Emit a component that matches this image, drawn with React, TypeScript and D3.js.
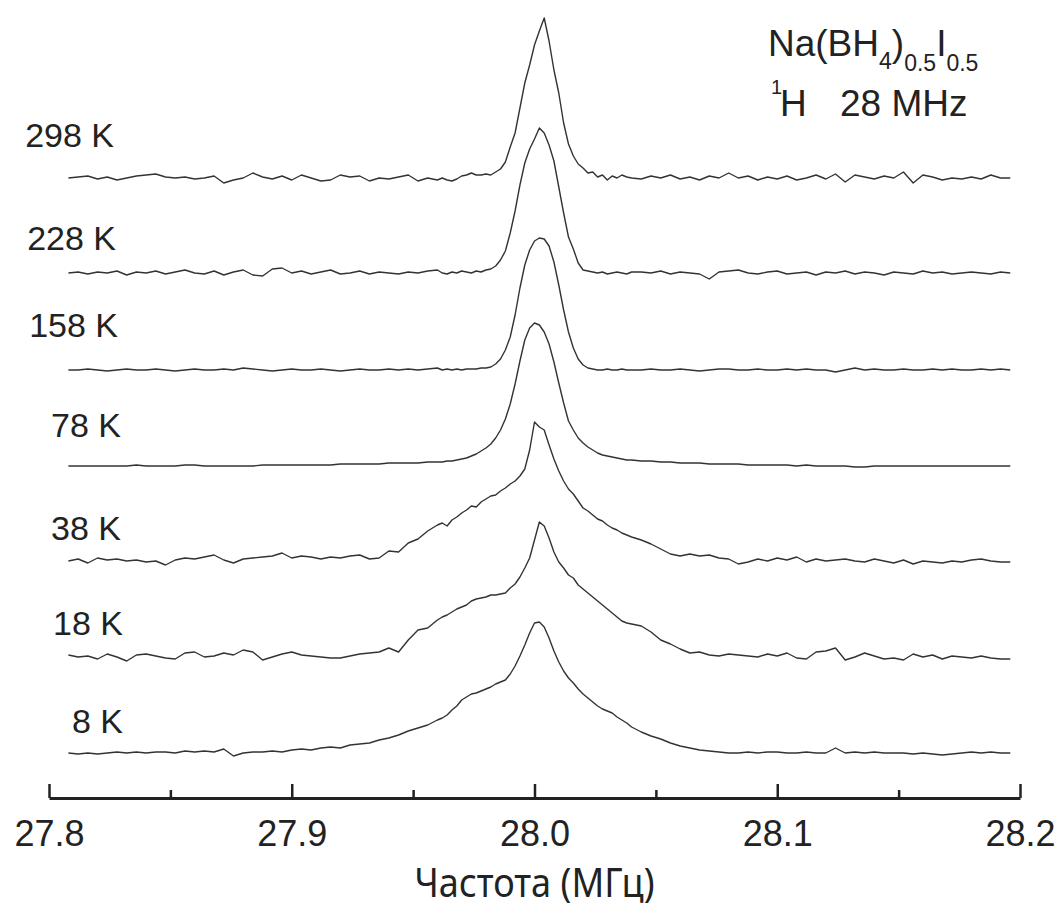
import { useEffect, useRef } from 'react';
import * as d3 from 'd3';

const WIDTH = 1057;
const HEIGHT = 908;

// temperatures, top trace first
const temperatures = ['298 K', '228 K', '158 K', '78 K', '38 K', '18 K', '8 K'];

const xTicks = [27.8, 27.9, 28.0, 28.1, 28.2];
const xMinorTicks = [27.85, 27.95, 28.05, 28.15];

// frequency grid (MHz): 4 kHz steps in the wings, 2 kHz across the line
const freqLeft = d3.range(39).map(j => 27.808 + j * 0.004);
const freqMid = d3.range(40).map(i => 27.962 + i * 0.002);
const freqRight = d3.range(39).map(k => 28.044 + k * 0.004);
const freq = [...freqLeft, ...freqMid, ...freqRight];

// signal intensity (a.u.), one value per grid point
const s298 = [
  0, 1, 2, -1, 1, -2, 0, 2, 3, 4, 1, 0, 1, -1, 0, 2, -5, -2, 0, 5,
  1, -1, 2, -2, 3, 0, -3, -2, 3, 1, 2, -3, 0, -1, 1, 3, -3, 0, -2,
  0, -2, -3, -1, 2, 3, 5, 3, 3, 4, 3, 6, 9, 16, 31, 45, 70, 95, 113, 133,
  147, 160, 137, 108, 85, 55, 34, 22, 14, 10, 5, 6, 1, 3, -2, 2, 0, 3, 1, 0,
  -1, 2, 0, 3, -1, 1, -2, 2, 0, 5, 0, 2, -2, 1, -1, 2, -2, 0, 3, -1,
  4, -4, 3, 1, -1, 2, 0, 6, -5, 3, 1, -2, 0, -1, 1, -1, 3, 0, 0,
];
const s228 = [
  0, 1, -1, 1, 0, 2, -2, 1, 0, 2, -1, 1, 3, 0, -1, 2, -2, 1, 3, -2,
  -3, 4, 5, 0, 2, -1, 1, 3, -1, 0, 2, -1, 1, 0, -1, 1, 0, 2, 3,
  0, -1, 1, 0, 2, 1, 0, 2, 1, 3, 4, 7, 13, 22, 40, 62, 88, 110, 124, 134,
  145, 140, 128, 112, 86, 60, 36, 24, 10, 3, 2, 1, 0, 1, -1, 0, 1, 0, -1, 1,
  1, 0, 2, -1, 1, 0, -1, -6, 1, 2, 3, 0, -1, 1, 2, -1, 0, 1, -2, 1,
  0, 2, -1, 1, 0, -2, 1, 0, -1, 2, 0, 1, -1, 0, 1, 0, -1, 1, 0,
];
const s158 = [
  0, 0, 1, 0, -1, 0, 1, 0, 0, 1, 0, -1, 0, 1, 0, 0, 1, 0, 2, 1,
  0, -1, 0, 1, 0, 0, 1, 0, -1, 0, 1, 0, 0, 1, 0, 1, 0, 1, 2,
  0, 1, 0, 1, 0, 1, 1, 1, 2, 2, 3, 6, 11, 20, 33, 55, 82, 105, 120, 129,
  132, 131, 124, 108, 85, 60, 38, 22, 11, 5, 2, 1, 0, 0, 1, 0, 0, 1, 0, 0,
  0, 1, 0, 0, 1, 0, -1, 0, 1, 1, 0, 0, 1, 0, 0, 1, 0, 1, 0, 0,
  -2, 0, 2, 0, 1, 0, 0, 1, 0, 0, 1, 0, 1, 0, 0, 1, 0, 1, 0,
];
const s78 = [
  0, 0, 0, 0, 0, 0, 0, 1, 0, 0, 0, 0, 1, 1, 0, 0, 0, 0, 0, 0,
  1, 1, 1, 1, 1, 1, 1, 1, 2, 2, 2, 2, 2, 3, 3, 3, 3, 4, 4,
  4, 5, 5, 6, 7, 8, 10, 12, 15, 18, 22, 28, 36, 47, 62, 82, 105, 126, 138, 143,
  141, 134, 122, 104, 83, 63, 45, 36, 28, 23, 19, 16, 13, 11, 10, 9, 8, 7, 6, 6,
  5, 5, 4, 4, 3, 3, 3, 2, 2, 2, 2, 1, 1, 1, 1, 1, 0, 1, 0, 0,
  0, 0, -1, -1, 0, 0, 0, 0, 0, 0, 0, 0, 0, 0, 0, 0, 0, 0, 0,
];
const s38 = [
  0, 2, -2, 3, 1, 2, 0, 1, -1, 0, -4, 1, 3, 2, 4, 6, 1, -2, 2, 3,
  4, 5, 8, 3, 5, 4, 2, 4, 3, 5, 6, 2, 3, 10, 9, 18, 22, 30, 36,
  38, 35, 41, 44, 48, 51, 55, 54, 59, 62, 65, 66, 70, 73, 77, 80, 85, 92, 111, 139,
  134, 131, 116, 102, 90, 80, 72, 67, 60, 53, 50, 46, 42, 40, 36, 33, 31, 28, 26, 24,
  21, 17, 12, 7, 5, 7, 5, 6, 3, 2, -3, -1, 2, 0, 3, 1, 4, -1, 2, 0,
  1, 2, 0, -1, 2, 0, -2, 1, -3, 0, -1, -2, 0, -1, 1, 2, 0, -1, -1,
];
const s18 = [
  1, -1, 0, -3, 2, -1, -5, 1, 2, 0, -2, -3, 3, 4, -1, 0, 3, 1, 6, 4,
  -4, -1, 2, 4, 1, 0, -1, -2, -2, 0, 2, 3, 4, 8, 4, 16, 26, 28, 36,
  39, 41, 44, 47, 49, 51, 55, 57, 58, 59, 61, 61, 62, 63, 68, 72, 79, 88, 98, 116,
  134, 130, 118, 104, 94, 88, 81, 78, 71, 67, 63, 59, 55, 51, 47, 43, 39, 35, 33, 32,
  30, 24, 16, 12, 7, 3, 4, 1, 0, 2, 1, 0, -1, 2, 0, 3, -2, -3, 4, 5,
  8, -4, -1, 3, 0, -3, -2, -4, 2, -1, 1, -3, 0, -1, -2, 0, -2, -3, -3,
];
const s8 = [
  0, -1, 0, -1, 0, 1, 0, 1, 0, 1, 1, 0, 2, 1, 2, 1, 4, -3, 0, 1,
  1, 2, 1, 3, 4, 3, 5, 6, 5, 8, 9, 10, 13, 15, 18, 22, 25, 28, 33,
  35, 38, 43, 47, 53, 56, 59, 60, 62, 64, 66, 69, 71, 73, 79, 87, 97, 108, 120, 130,
  131, 126, 115, 102, 91, 82, 75, 70, 64, 59, 55, 51, 47, 44, 42, 40, 36, 33, 30, 26,
  21, 17, 14, 10, 7, 5, 3, 2, 1, 0, 0, 1, 0, 1, 1, 0, 0, 1, 0, 0,
  5, 0, 1, 0, 1, 0, 0, 0, -1, 0, -1, -2, -1, 0, 1, 0, 1, 0, 0,
];

const spectra = [s298, s228, s158, s78, s38, s18, s8];

const App = () => {
  const svgRef = useRef<SVGSVGElement>(null);

  useEffect(() => {
    const svg = d3.select(svgRef.current);
    svg.selectAll('*').remove();

    const x = d3.scaleLinear().domain([27.8, 28.2]).range([49, 1020]);
    const y = d3.scaleLinear().domain([0, 800]).range([800, 0]);

    // vertical stacking of the traces and label placement
    const stackOffset = [622, 527, 430, 334, 239, 144, 47];
    const labelLift = [31, 23, 33, 29, 21, 21, 20];
    const labelRight = [114, 116, 118, 121, 121, 123, 123];

    const font = "'Liberation Sans', Arial, Helvetica, sans-serif";
    const ink = '#222';

    spectra.forEach((vals, t) => {
      const pts: [number, number][] = vals.map((v, i) => [freq[i], v + stackOffset[t]]);
      const line = d3.line<[number, number]>()
        .x(d => x(d[0]))
        .y(d => y(d[1]));
      svg.append('path')
        .datum(pts)
        .attr('d', line)
        .attr('fill', 'none')
        .attr('stroke', '#333')
        .attr('stroke-width', 1.4)
        .attr('stroke-linejoin', 'round');

      svg.append('text')
        .attr('x', labelRight[t])
        .attr('y', y(stackOffset[t]) - labelLift[t])
        .attr('text-anchor', 'end')
        .attr('font-family', font)
        .attr('font-size', 34)
        .attr('fill', ink)
        .text(temperatures[t]);
    });

    // x axis, ticks pointing up
    const axisY = 798;
    const gAxis = svg.append('g')
      .attr('transform', `translate(0,${axisY})`)
      .call(d3.axisBottom(x)
        .tickValues(xTicks)
        .tickSize(-14)
        .tickSizeOuter(0)
        .tickPadding(22)
        .tickFormat(d3.format('.1f')));
    gAxis.select('.domain').attr('stroke', ink).attr('stroke-width', 3);
    gAxis.selectAll('.tick line').attr('stroke', ink).attr('stroke-width', 2.5);
    gAxis.selectAll('.tick text')
      .attr('font-family', font)
      .attr('font-size', 36)
      .attr('fill', ink);

    const gMinor = svg.append('g')
      .attr('transform', `translate(0,${axisY})`)
      .call(d3.axisBottom(x)
        .tickValues(xMinorTicks)
        .tickSize(-8)
        .tickSizeOuter(0)
        .tickFormat(() => ''));
    gMinor.select('.domain').remove();
    gMinor.selectAll('.tick line').attr('stroke', ink).attr('stroke-width', 2.5);

    svg.append('text')
      .attr('x', x(28.0))
      .attr('y', 897)
      .attr('text-anchor', 'middle')
      .attr('font-family', "'Noto Sans', sans-serif")
      .attr('font-size', 40)
      .attr('textLength', 240)
      .attr('lengthAdjust', 'spacingAndGlyphs')
      .attr('fill', ink)
      .text('Частота (МГц)');

    // sample and nucleus
    const title = svg.append('text')
      .attr('x', 768)
      .attr('y', 56)
      .attr('font-family', font)
      .attr('font-size', 37)
      .attr('fill', ink);
    title.append('tspan').text('Na(BH');
    title.append('tspan').attr('font-size', 23).attr('dy', 13).text('4');
    title.append('tspan').attr('dy', -13).text(')');
    title.append('tspan').attr('font-size', 23).attr('dy', 15).text('0.5');
    title.append('tspan').attr('dy', -15).text('I');
    title.append('tspan').attr('font-size', 23).attr('dy', 15).text('0.5');

    svg.append('text')
      .attr('x', 771)
      .attr('y', 94)
      .attr('font-family', font)
      .attr('font-size', 20)
      .attr('fill', ink)
      .text('1');
    svg.append('text')
      .attr('x', 780)
      .attr('y', 116)
      .attr('font-family', font)
      .attr('font-size', 37)
      .attr('fill', ink)
      .text('H');
    svg.append('text')
      .attr('x', 840)
      .attr('y', 116)
      .attr('font-family', font)
      .attr('font-size', 37)
      .attr('fill', ink)
      .text('28 MHz');
  }, []);

  return (
    <svg
      ref={svgRef}
      width={WIDTH}
      height={HEIGHT}
      style={{ position: 'absolute', left: 0, top: 0, background: '#fff' }}
    />
  );
};

export default App;
